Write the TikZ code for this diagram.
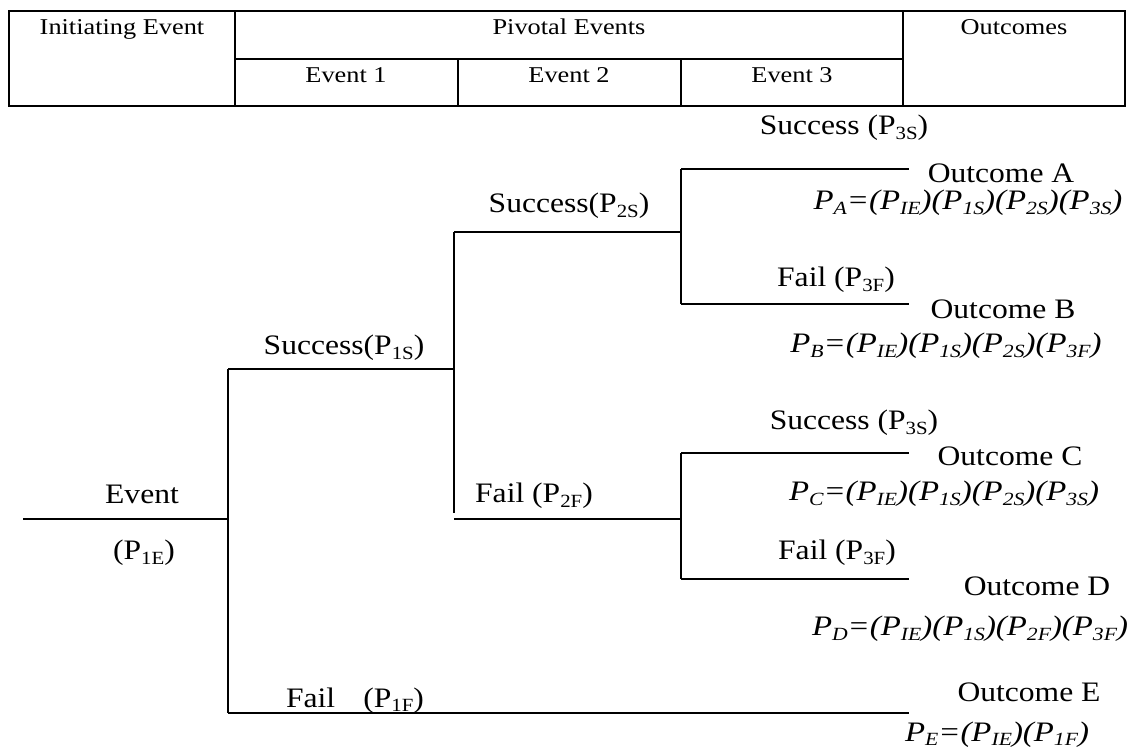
\documentclass[tikz,border=0pt]{standalone}
\usepackage{graphicx}
\usepackage{fontspec}
\setmainfont{Liberation Serif}[FakeStretch=1.165]
\newfontfamily\treefont{Liberation Serif}[FakeStretch=1.12]
\newcommand\sbs[1]{\raisebox{-0.32ex}{\scalebox{0.66}{#1}}}
\begin{document}
\begin{tikzpicture}[x=0.5pt,y=-0.5pt,
  branch/.style={line width=1pt},
  grid/.style={line width=1.3pt},
  head/.style={font=\fontsize{11.3}{13}\selectfont, anchor=base, inner sep=0pt},
  lab/.style={font=\treefont\fontsize{14.1}{16}\selectfont, anchor=base, inner sep=0pt},
  prob/.style={font=\fontsize{14.1}{16}\selectfont\itshape, anchor=base, inner sep=0pt}]
\useasboundingbox (0,0) rectangle (1129,747);

% header table
\draw[grid] (9,11) rectangle (1125,106);
\draw[grid] (235,11) -- (235,106);
\draw[grid] (903,11) -- (903,106);
\draw[grid] (235,59) -- (903,59);
\draw[grid] (458,59) -- (458,106);
\draw[grid] (681,59) -- (681,106);
\node[head] (hInit) at (122,35) {Initiating Event};
\node[head] (hPiv)  at (569,35) {Pivotal Events};
\node[head] (hOut)  at (1014,35) {Outcomes};
\node[head] (hE1)   at (346,83) {Event 1};
\node[head] (hE2)   at (569,83) {Event 2};
\node[head] (hE3)   at (792,83) {Event 3};

% branch points of the tree
\coordinate (ev0) at (23,519);
\coordinate (j1)  at (228,519);
\coordinate (j1t) at (228,369);
\coordinate (j1b) at (228,713);
\coordinate (j2)  at (454,369);
\coordinate (j2t) at (454,232);
\coordinate (j2b) at (454,513);
\coordinate (f2s) at (454,519);
\coordinate (j3)  at (681,232);
\coordinate (j3t) at (681,169);
\coordinate (j3b) at (681,304);
\coordinate (j4)  at (681,519);
\coordinate (j4t) at (681,453);
\coordinate (j4b) at (681,579);
\coordinate (eA)  at (909,169);
\coordinate (eB)  at (909,304);
\coordinate (eC)  at (909,453);
\coordinate (eD)  at (909,579);
\coordinate (eE)  at (909,713);

% branches
\draw[branch] (ev0) -- (j1);
\draw[branch] (j1t) -- (j1b);
\draw[branch] (j1t) -- (j2);
\draw[branch] (j2t) -- (j2b);
\draw[branch] (j2t) -- (j3);
\draw[branch] (f2s) -- (j4);
\draw[branch] (j3t) -- (j3b);
\draw[branch] (j3t) -- (eA);
\draw[branch] (j3b) -- (eB);
\draw[branch] (j4t) -- (j4b);
\draw[branch] (j4t) -- (eC);
\draw[branch] (j4b) -- (eD);
\draw[branch] (j1b) -- (eE);

% branch labels
\node[lab] (lEv)  at (142,504) {Event};
\node[lab] (lPie) at (144,560) {(P\sbs{1E})};
\node[lab] (l1s)  at (344,355) {Success(P\sbs{1S})};
\node[lab] (l1f)  at (355,707) {Fail\hspace{14pt}(P\sbs{1F})};
\node[lab] (l2s)  at (569,213) {Success(P\sbs{2S})};
\node[lab] (l2f)  at (534,503) {Fail (P\sbs{2F})};
\node[lab] (l3sa) at (844,135) {Success (P\sbs{3S})};
\node[lab] (l3fa) at (836,287) {Fail (P\sbs{3F})};
\node[lab] (l3sb) at (854,430) {Success (P\sbs{3S})};
\node[lab] (l3fb) at (837,560) {Fail (P\sbs{3F})};

% outcomes
\node[lab] (oA) at (1001,183) {Outcome A};
\node[lab] (oB) at (1003,319) {Outcome B};
\node[lab] (oC) at (1010,466) {Outcome C};
\node[lab] (oD) at (1037,596) {Outcome D};
\node[lab] (oE) at (1029,701) {Outcome E};
\node[prob] (pA) at (968,210) {P\sbs{A}=(P\sbs{IE})(P\sbs{1S})(P\sbs{2S})(P\sbs{3S})};
\node[prob] (pB) at (946,353) {P\sbs{B}=(P\sbs{IE})(P\sbs{1S})(P\sbs{2S})(P\sbs{3F})};
\node[prob] (pC) at (944,501) {P\sbs{C}=(P\sbs{IE})(P\sbs{1S})(P\sbs{2S})(P\sbs{3S})};
\node[prob] (pD) at (970,636) {P\sbs{D}=(P\sbs{IE})(P\sbs{1S})(P\sbs{2F})(P\sbs{3F})};
\node[prob] (pE) at (997,741) {P\sbs{E}=(P\sbs{IE})(P\sbs{1F})};
\end{tikzpicture}
\end{document}
